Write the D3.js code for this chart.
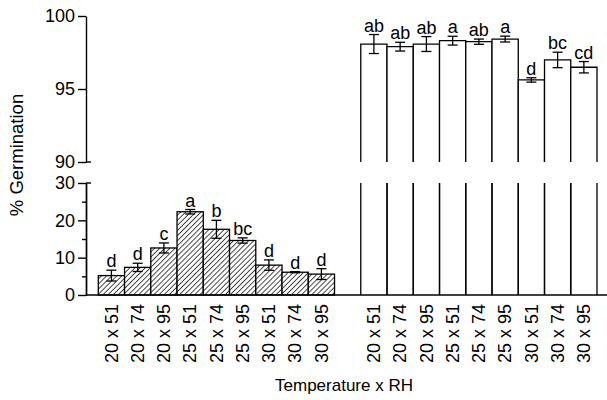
<!DOCTYPE html>
<html>
<head>
<meta charset="utf-8">
<script src="https://cdn.jsdelivr.net/npm/d3@7"></script>
<style>
  body { margin: 0; background: #fff; }
  text { font-family: "Liberation Sans", Arial, sans-serif; fill: #000; }
  .axis path, .axis line { stroke: #000; stroke-width: 1.4; }
  .axis text { font-size: 18px; font-family: "Liberation Sans", Arial, sans-serif; }
</style>
</head>
<body>
<script>
// Germination by temperature x RH, broken y axis (0-30 and 90-100).

var categories = ['20 x 51', '20 x 74', '20 x 95', '25 x 51', '25 x 74', '25 x 95', '30 x 51', '30 x 74', '30 x 95'];

// low germination group (hatched bars)
var lowMeans = [5.2, 7.4, 12.6, 22.3, 17.6, 14.6, 8.0, 6.1, 5.6];
var lowErr = [1.45, 1.1, 1.35, 0.6, 2.4, 0.7, 1.4, 0.15, 1.45];
var lowLetters = ['d', 'd', 'c', 'a', 'b', 'bc', 'd', 'd', 'd'];

// high germination group (open bars)
var highMeans = [98.08, 97.9, 98.08, 98.31, 98.24, 98.42, 95.62, 96.99, 96.49];
var highErr = [0.65, 0.3, 0.51, 0.3, 0.18, 0.2, 0.15, 0.53, 0.39];
var highLetters = ['ab', 'ab', 'ab', 'a', 'ab', 'a', 'd', 'bc', 'cd'];

var lowTicks = [0, 10, 20, 30],
    lowMinor = [5, 15, 25],
    topTicks = [90, 95, 100];

var width = 607,
    height = 400,
    axisX = 86,
    baseY = 295,
    capW = 10;

var svg = d3.select('body').append('svg')
    .attr('width', width)
    .attr('height', height);

var defs = svg.append('defs');
var hatch = defs.append('pattern')
    .attr('id', 'hatch')
    .attr('patternUnits', 'userSpaceOnUse')
    .attr('width', 3.6)
    .attr('height', 3.6)
    .attr('patternTransform', 'rotate(45)');
hatch.append('rect').attr('width', 3.6).attr('height', 3.6).attr('fill', '#fff');
hatch.append('line')
    .attr('x1', 0).attr('y1', 0)
    .attr('x2', 0).attr('y2', 3.6)
    .attr('stroke', '#000')
    .attr('stroke-width', 1.4);

// 19 slots: 9 low, one empty, 9 high
var slots = categories.map(function(c) { return 'L ' + c; })
    .concat(['gap'])
    .concat(categories.map(function(c) { return 'H ' + c; }));

var x = d3.scaleBand()
    .domain(slots)
    .range([98.3, 597])
    .padding(0);

var yLow = d3.scaleLinear().domain([0, 30]).range([baseY, 183]);
var yTop = d3.scaleLinear().domain([90, 100]).range([162, 16]);

// axes
svg.append('g')
    .classed('axis', true)
    .attr('transform', 'translate(' + axisX + ',0)')
    .call(d3.axisLeft(yLow).tickValues(lowTicks).tickSize(8).tickSizeOuter(0).tickPadding(3));
svg.append('g')
    .classed('axis', true)
    .attr('transform', 'translate(' + axisX + ',0)')
    .call(d3.axisLeft(yLow).tickValues(lowMinor).tickSize(4).tickFormat('').tickSizeOuter(0));
svg.append('g')
    .classed('axis', true)
    .attr('transform', 'translate(' + axisX + ',0)')
    .call(d3.axisLeft(yTop).tickValues(topTicks).tickSize(8).tickSizeOuter(0).tickPadding(3));
svg.selectAll('.axis text').attr('fill', '#000');

// break marks poke right of the axis
[yTop(90), yLow(30)].forEach(function(yy) {
    svg.append('line')
        .attr('x1', axisX).attr('x2', axisX + 5)
        .attr('y1', yy).attr('y2', yy)
        .attr('stroke', '#000').attr('stroke-width', 1.4);
});

// low bars
var lowG = svg.append('g');
lowG.selectAll('rect')
    .data(lowMeans)
    .enter()
    .append('rect')
    .attr('x', function(d, i) { return x('L ' + categories[i]); })
    .attr('y', function(d) { return yLow(d); })
    .attr('width', x.bandwidth())
    .attr('height', function(d) { return yLow(0) - yLow(d); })
    .attr('fill', 'url(#hatch)')
    .attr('stroke', '#000')
    .attr('stroke-width', 1.3);

// high bars, drawn in both panels with the break between
var highG = svg.append('g');
highG.selectAll('path.top')
    .data(highMeans)
    .enter()
    .append('path')
    .classed('top', true)
    .attr('d', function(d, i) {
        var x0 = x('H ' + categories[i]), x1 = x0 + x.bandwidth();
        return 'M' + x0 + ',' + yTop(90) + 'V' + yTop(d) + 'H' + x1 + 'V' + yTop(90);
    })
    .attr('fill', '#fff')
    .attr('stroke', '#000')
    .attr('stroke-width', 1.3);
highG.selectAll('path.low')
    .data(highMeans)
    .enter()
    .append('path')
    .classed('low', true)
    .attr('d', function(d, i) {
        var x0 = x('H ' + categories[i]), x1 = x0 + x.bandwidth();
        return 'M' + x0 + ',' + yLow(0) + 'V' + yLow(30) + 'M' + x1 + ',' + yLow(0) + 'V' + yLow(30);
    })
    .attr('fill', 'none')
    .attr('stroke', '#000')
    .attr('stroke-width', 1.3);

// error bars and letters
function errorBars(g, means, errs, letters, prefix, ys) {
    means.forEach(function(m, i) {
        var cx = x(prefix + categories[i]) + x.bandwidth() / 2,
            hi = ys(m + errs[i]),
            lo = ys(m - errs[i]);
        g.append('line')
            .attr('x1', cx).attr('x2', cx)
            .attr('y1', hi).attr('y2', lo)
            .attr('stroke', '#000').attr('stroke-width', 1.3);
        [hi, lo].forEach(function(yy) {
            g.append('line')
                .attr('x1', cx - capW / 2).attr('x2', cx + capW / 2)
                .attr('y1', yy).attr('y2', yy)
                .attr('stroke', '#000').attr('stroke-width', 1.3);
        });
        g.append('text')
            .attr('x', cx)
            .attr('y', hi - 3)
            .attr('text-anchor', 'middle')
            .style('font-size', '18px')
            .text(letters[i]);
    });
}
errorBars(lowG, lowMeans, lowErr, lowLetters, 'L ', yLow);
errorBars(highG, highMeans, highErr, highLetters, 'H ', yTop);

// x axis baseline
svg.append('line')
    .attr('x1', axisX).attr('x2', width)
    .attr('y1', baseY).attr('y2', baseY)
    .attr('stroke', '#000').attr('stroke-width', 1.6);

// category labels, rotated
svg.append('g')
    .selectAll('text')
    .data(slots.filter(function(s) { return s !== 'gap'; }))
    .enter()
    .append('text')
    .attr('transform', function(d) {
        return 'translate(' + (x(d) + x.bandwidth() / 2) + ',304) rotate(-90)';
    })
    .attr('dy', '0.35em')
    .attr('text-anchor', 'end')
    .style('font-size', '18px')
    .text(function(d) { return d.slice(2); });

// titles
svg.append('text')
    .attr('x', 344)
    .attr('y', 391)
    .attr('text-anchor', 'middle')
    .style('font-size', '17px')
    .text('Temperature x RH');

svg.append('text')
    .attr('transform', 'translate(23,155) rotate(-90)')
    .attr('text-anchor', 'middle')
    .style('font-size', '18.5px')
    .text('% Germination');
</script>
</body>
</html>
